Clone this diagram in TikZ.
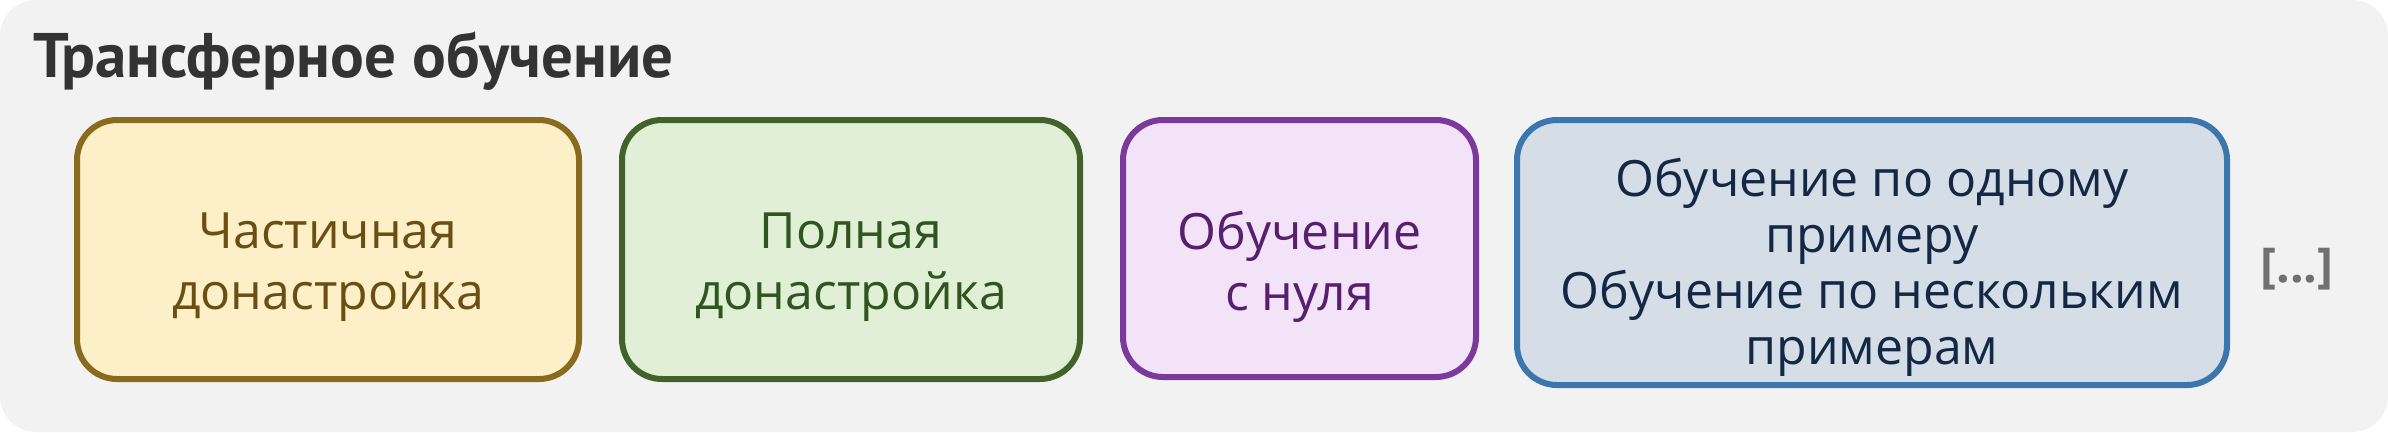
\documentclass[tikz,border=0pt]{standalone}
\usepackage{fontspec}
\setmainfont{Open Sans}
\newfontfamily\titlefont{PT Sans}

\definecolor{bggray}{HTML}{F2F2F2}
\definecolor{titlegray}{HTML}{333333}
\definecolor{partfill}{HTML}{FDF0C9}
\definecolor{partdraw}{HTML}{8A6A1C}
\definecolor{parttext}{HTML}{6A4E12}
\definecolor{fullfill}{HTML}{E1EFD7}
\definecolor{fulldraw}{HTML}{41632A}
\definecolor{fulltext}{HTML}{2F561F}
\definecolor{scratchfill}{HTML}{F2E3F8}
\definecolor{scratchdraw}{HTML}{7B3A9B}
\definecolor{scratchtext}{HTML}{571F6E}
\definecolor{shotfill}{HTML}{D5DDE7}
\definecolor{shotdraw}{HTML}{3B77AC}
\definecolor{shottext}{HTML}{142846}
\definecolor{moregray}{HTML}{707070}

\begin{document}
\begin{tikzpicture}[
                x=1pt, y=-1pt,
                card/.style={draw, line width=6pt, rounded corners=40pt, inner sep=0pt},
                cardtext/.style={align=center, inner sep=0pt, font=\fontsize{50}{61}\selectfont},
            ]
                \useasboundingbox (0, 0) rectangle (2388, 432);
                \fill[white] (0, 0) rectangle (2388, 432);
                \fill[bggray, rounded corners=36pt] (0, 0) rectangle (2388, 432);
                \node[anchor=base west, inner sep=0pt, text=titlegray,
                    font=\titlefont\bfseries\fontsize{63}{70}\selectfont] (title) at (33, 77) {Трансферное обучение};
                % the four cards
                \node[card, draw=partdraw, fill=partfill, minimum width=502pt, minimum height=259pt] (partial) at (328, 249.5) {};
                \node[card, draw=fulldraw, fill=fullfill, minimum width=458pt, minimum height=259pt] (full) at (851, 249.5) {};
                \node[card, draw=scratchdraw, fill=scratchfill, minimum width=353pt, minimum height=257pt] (scratch) at (1299.5, 248.5) {};
                \node[card, draw=shotdraw, fill=shotfill, minimum width=710pt, minimum height=265pt] (shots) at (1872, 252.5) {};
                % their labels
                \node[cardtext, text=parttext] (partial-label) at ([yshift=-18pt]partial.center) {Частичная\\донастройка};
                \node[cardtext, text=fulltext] (full-label) at ([yshift=-18pt]full.center) {Полная\\донастройка};
                \node[cardtext, text=scratchtext] (scratch-label) at ([yshift=-18pt]scratch.center) {Обучение\\с нуля};
                \node[cardtext, text=shottext, font=\fontsize{50}{56}\selectfont] (shots-label) at ([yshift=-15pt]shots.center) {Обучение по одному\\примеру\\Обучение по нескольким\\примерам};
                \node[text=moregray, inner sep=0pt, font=\bfseries\fontsize{48}{56}\selectfont] (more) at (2297, 269) {[...]};
            \end{tikzpicture}
\end{document}
